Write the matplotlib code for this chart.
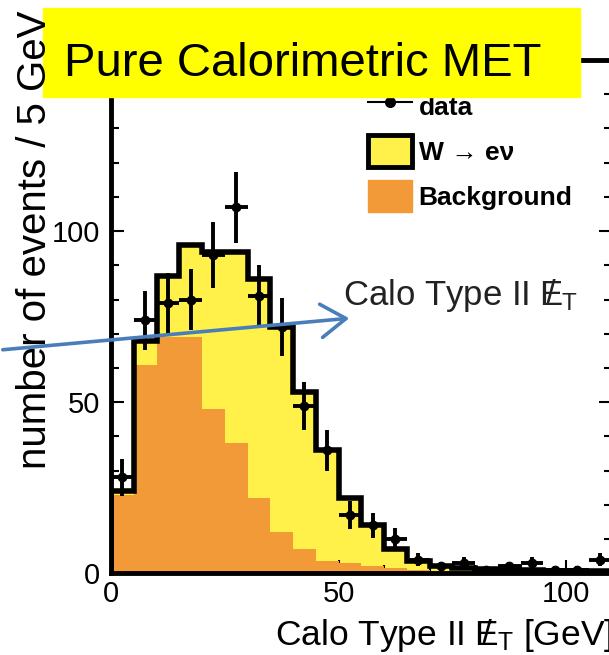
import numpy as np
import matplotlib
matplotlib.use("Agg")
import matplotlib.pyplot as plt
from matplotlib.patches import Rectangle, Patch, FancyArrowPatch
from matplotlib.lines import Line2D
from matplotlib.ticker import MultipleLocator, FixedLocator

plt.rcParams["font.family"] = ["Liberation Sans", "DejaVu Sans"]
plt.rcParams["mathtext.fontset"] = "custom"
plt.rcParams["mathtext.rm"] = "Liberation Sans"

# 5 GeV bins from 0 to 110 GeV
edges = np.arange(0, 115, 5)
background = [23, 61, 69, 69, 48, 38, 22, 12, 7, 3.5, 3, 2, 1.5, 1,
              0.8, 0.6, 0.5, 0.5, 0.4, 0.4, 0.3, 0.3]
total = [24, 68, 87, 96, 94, 94, 86, 72, 53, 36, 22, 14, 7, 3.5,
         2, 1.5, 1.2, 1, 1, 0.8, 0.8, 0.7]
data = [28, 74, 79, 80, 93, 107, 81, 72, 49, 36, 17, 14, 10, 4,
        2, 3, 1, 2, 3, 1, 1, 4]

x_ticks = [0, 50, 100]
y_ticks = [0, 50, 100, 150]

yellow = "#FFF04A"
orange = "#F39A38"
arrow_blue = "#4A7EBB"

W, H = 609, 655
fig = plt.figure(figsize=(W / 100, H / 100), dpi=100)
ax = fig.add_axes([111 / W, 81.7 / H, 500.5 / W, 513.3 / H])

centers = (edges[:-1] + edges[1:]) / 2
ax.stairs(total, edges, fill=True, color=yellow, zorder=1)
ax.stairs(background, edges, fill=True, color=orange, zorder=2)
outline = ax.stairs(total, edges, color="k", lw=4, zorder=3)
outline.set_joinstyle("miter")
ax.errorbar(centers, data, yerr=np.sqrt(data), xerr=2.5, fmt="o", color="k",
            ms=6, elinewidth=2.8, capsize=0, zorder=4)

ax.set_xlim(0, 110)
ax.set_ylim(0, 150)
ax.xaxis.set_major_locator(FixedLocator(x_ticks))
ax.yaxis.set_major_locator(FixedLocator(y_ticks))
ax.xaxis.set_minor_locator(MultipleLocator(10))
ax.yaxis.set_minor_locator(MultipleLocator(10))
ax.tick_params(which="both", direction="in", top=True, right=True, width=1.5)
ax.tick_params(which="major", length=9.5, labelsize=21)
ax.tick_params(which="minor", length=5.8)
ax.tick_params(axis="y", pad=8)
ax.tick_params(axis="x", pad=5)
for s in ax.spines.values():
    s.set_linewidth(3.5)

# legend
handles = [
    Line2D([], [], color="k", lw=1.5, marker="o", ms=7),
    Patch(facecolor=yellow, edgecolor="k", linewidth=3.5),
    Patch(facecolor=orange, edgecolor=orange),
]
labels = ["data", "W \u2192 e\u03bd", "Background"]
ax.legend(handles, labels, loc="upper left", frameon=False,
          bbox_to_anchor=(368 / W, 1 - 90 / H), bbox_transform=fig.transFigure,
          borderpad=0, borderaxespad=0, handlelength=1.67, handleheight=1.5,
          labelspacing=0.48, handletextpad=0.25,
          prop={"weight": "bold", "size": 19})

# axis titles
met = r"$\mathregular{E\!\!\!/\,_T}$"
fig.text(35 / W, 1 - 240 / H, "number of events / 5 GeV", rotation=90,
         ha="center", va="center", fontsize=29)
fig.text(613 / W, 1 - 645 / H, "Calo Type II " + met + " [GeV]",
         ha="right", va="baseline", fontsize=25.5)

# title box
fig.add_artist(Rectangle((43 / W, 1 - 97 / H), 537 / W, 89 / H,
                         transform=fig.transFigure, color="#FFFF00", zorder=2))
fig.text(64 / W, 1 - 75.6 / H, "Pure Calorimetric MET", ha="left",
         va="baseline", fontsize=34, zorder=3)

# annotation arrow
fig.add_artist(FancyArrowPatch((0, 1 - 350 / H), (352 / W, 1 - 318 / H),
                               transform=fig.transFigure,
                               arrowstyle="->,head_length=0.9,head_width=0.6",
                               mutation_scale=20, color=arrow_blue, lw=2.6,
                               zorder=5))
fig.text(343 / W, 1 - 305 / H, "Calo Type II " + met, ha="left",
         va="baseline", fontsize=25, color="#222222")

fig.savefig("out.png", dpi=100)
